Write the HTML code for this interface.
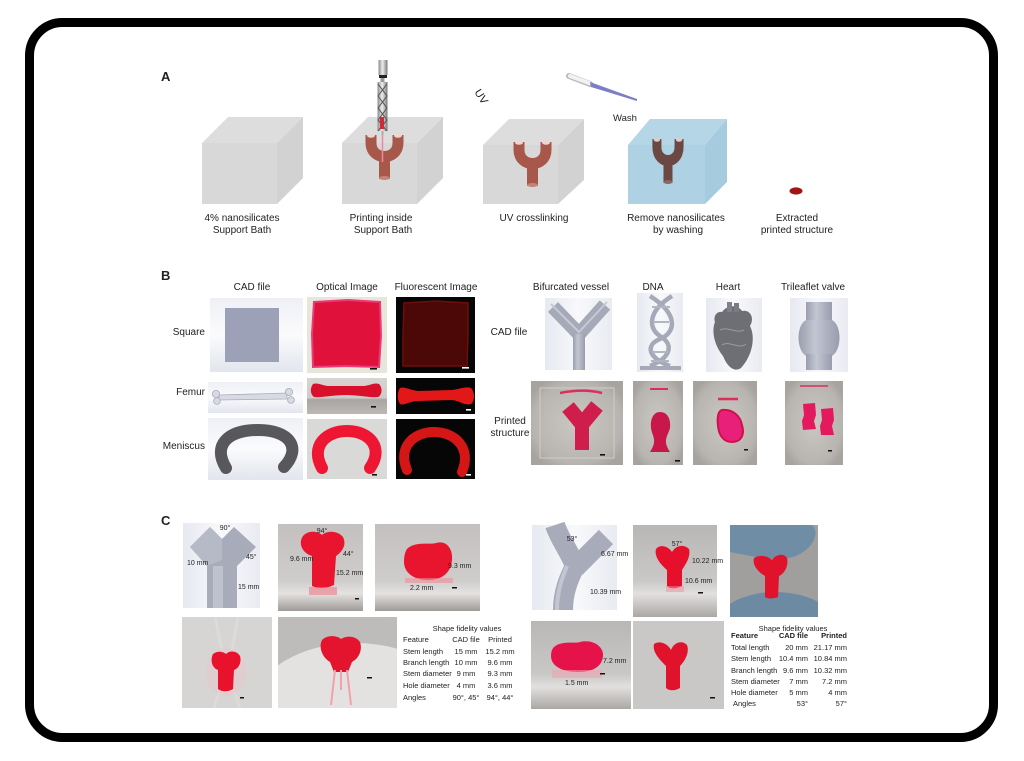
<!DOCTYPE html>
<html><head><meta charset="utf-8"><style>
html,body{margin:0;padding:0;background:#fff;}
svg{display:block;}
text{font-family:"Liberation Sans",Arial,sans-serif;fill:#222;}
</style></head><body>
<svg width="1024" height="761" viewBox="0 0 1024 761" xmlns="http://www.w3.org/2000/svg">
<defs>
<linearGradient id="cadbg" x1="0" y1="0" x2="0" y2="1"><stop offset="0" stop-color="#eef0f6"/><stop offset="0.5" stop-color="#fbfbfd"/><stop offset="1" stop-color="#e2e5ee"/></linearGradient>
<linearGradient id="cadbgH" x1="0" y1="0" x2="1" y2="0"><stop offset="0" stop-color="#e6e9f1"/><stop offset="0.5" stop-color="#f8f9fb"/><stop offset="1" stop-color="#e9ebf2"/></linearGradient>
<linearGradient id="photoG" x1="0" y1="0" x2="0" y2="1"><stop offset="0" stop-color="#c3c0bf"/><stop offset="0.65" stop-color="#cfcdcb"/><stop offset="0.8" stop-color="#e4e2e0"/><stop offset="1" stop-color="#9d9a98"/></linearGradient>
<linearGradient id="photoG2" x1="0" y1="0" x2="0" y2="1"><stop offset="0" stop-color="#b9b7b6"/><stop offset="0.6" stop-color="#cac8c6"/><stop offset="0.75" stop-color="#e2e0de"/><stop offset="1" stop-color="#aaa7a5"/></linearGradient>
<radialGradient id="printBg" cx="0.5" cy="0.5" r="0.6"><stop offset="0" stop-color="#cbc7c2"/><stop offset="0.8" stop-color="#b8b4af"/><stop offset="1" stop-color="#a7a39e"/></radialGradient>
<linearGradient id="femOpt" x1="0" y1="0" x2="0" y2="1"><stop offset="0" stop-color="#d8d4d1"/><stop offset="0.55" stop-color="#cfcbc8"/><stop offset="0.6" stop-color="#a9a5a2"/><stop offset="1" stop-color="#bcb8b5"/></linearGradient>
<linearGradient id="tube" x1="0" y1="0" x2="1" y2="0"><stop offset="0" stop-color="#9a9eae"/><stop offset="0.4" stop-color="#c3c6d2"/><stop offset="1" stop-color="#989cac"/></linearGradient>
<linearGradient id="syr" x1="0" y1="0" x2="1" y2="0"><stop offset="0" stop-color="#888"/><stop offset="0.45" stop-color="#eee"/><stop offset="1" stop-color="#777"/></linearGradient>
<clipPath id="clipC5"><rect x="278" y="617" width="119" height="91"/></clipPath>
<clipPath id="clipC4"><rect x="182" y="617" width="90" height="91"/></clipPath>
</defs>

<rect x="29.5" y="22.5" width="964" height="715" rx="33" ry="33" fill="#fff" stroke="#000" stroke-width="9"/>

<!-- ============ PANEL A ============ -->
<text x="161" y="81" font-size="13" font-weight="bold" fill="#111">A</text>

<g>
<polygon points="202,143 228,117 303,117 277,143" fill="#dddddd"/>
<polygon points="277,143 303,117 303,178 277,204" fill="#d2d2d2"/>
<rect x="202" y="143" width="75" height="61" fill="#d8d8d8"/>
</g>
<g>
<polygon points="342,143 368,117 443,117 417,143" fill="#dddddd"/>
<polygon points="417,143 443,117 443,178 417,204" fill="#d2d2d2"/>
<rect x="342" y="143" width="75" height="61" fill="#d8d8d8"/>
</g>
<g>
<polygon points="483,145 509,119 584,119 558,145" fill="#dddddd"/>
<polygon points="558,145 584,119 584,180 558,204" fill="#d2d2d2"/>
<rect x="483" y="145" width="75" height="59" fill="#d8d8d8"/>
</g>
<g>
<polygon points="628,145 650,119 727,119 705,145" fill="#b4d6e6"/>
<polygon points="705,145 727,119 727,182 705,204" fill="#a6cbde"/>
<rect x="628" y="145" width="77" height="59" fill="#aed1e3"/>
</g>

<g transform="translate(365,133)">
<path d="M6,2 L6,10 C6,28 33,28 33,10 L33,2" fill="none" stroke="#a8584a" stroke-width="11"/>
<rect x="14" y="20" width="11" height="26" fill="#a8584a"/>
<ellipse cx="6" cy="2.5" rx="4" ry="2.3" fill="#ecd6d2"/>
<ellipse cx="33" cy="2.5" rx="4" ry="2.3" fill="#ecd6d2"/>
<ellipse cx="19.5" cy="45" rx="5.5" ry="2" fill="#c58478"/>
</g>
<g>
<line x1="382.5" y1="133" x2="382.5" y2="162" stroke="#f08a9a" stroke-width="1.5"/>
<rect x="378.5" y="60" width="9" height="15" fill="url(#syr)"/>
<rect x="379" y="75" width="8" height="3" fill="#222"/>
<rect x="380.5" y="78" width="4" height="4" fill="#999"/>
<rect x="377.5" y="82" width="10" height="49" fill="url(#syr)"/>
<polyline points="378,84 387,96 378,108 387,120 378,131" fill="none" stroke="#555" stroke-width="1"/>
<polyline points="387,84 378,96 387,108 378,120 387,131" fill="none" stroke="#555" stroke-width="1"/>
<rect x="380" y="117" width="4" height="12" fill="#d02a3a"/>
<rect x="381.5" y="131" width="2" height="4" fill="#aaa"/>
</g>

<g transform="translate(513,140)">
<path d="M6,2 L6,10 C6,28 33,28 33,10 L33,2" fill="none" stroke="#a8584a" stroke-width="11"/>
<rect x="14" y="20" width="11" height="26" fill="#a8584a"/>
<ellipse cx="6" cy="2.5" rx="4" ry="2.3" fill="#ecd6d2"/>
<ellipse cx="33" cy="2.5" rx="4" ry="2.3" fill="#ecd6d2"/>
<ellipse cx="19.5" cy="45" rx="5.5" ry="2" fill="#c58478"/>
</g>
<g transform="translate(652,137) scale(0.82,1)">
<path d="M6,2 L6,10 C6,28 33,28 33,10 L33,2" fill="none" stroke="#6c4843" stroke-width="11"/>
<rect x="14" y="20" width="11" height="26" fill="#6c4843"/>
<ellipse cx="6" cy="2.5" rx="4" ry="2.3" fill="#d8cccc"/>
<ellipse cx="33" cy="2.5" rx="4" ry="2.3" fill="#d8cccc"/>
<ellipse cx="19.5" cy="45" rx="5.5" ry="2" fill="#8a6862"/>
</g>

<text x="468" y="93" font-size="11" transform="rotate(58 472 98)" fill="#333">UV</text>
<line x1="569" y1="76" x2="590" y2="84" stroke="#bbb" stroke-width="6" stroke-linecap="round"/>
<line x1="570" y1="76" x2="589" y2="83" stroke="#f2f2f2" stroke-width="4" stroke-linecap="round"/>
<polygon points="590,82 591,87 637,101 637,99" fill="#7d7fc6"/>
<text x="625" y="121" font-size="9.5" text-anchor="middle" fill="#333">Wash</text>
<ellipse cx="796" cy="191" rx="6.5" ry="3.6" fill="#a31414"/>

<g font-size="10" text-anchor="middle" fill="#333">
<text x="242" y="221">4% nanosilicates</text>
<text x="242" y="233">Support Bath</text>
<text x="381" y="221">Printing inside</text>
<text x="383" y="233">Support Bath</text>
<text x="534" y="221">UV crosslinking</text>
<text x="676" y="221">Remove nanosilicates</text>
<text x="678" y="233">by washing</text>
<text x="797" y="221">Extracted</text>
<text x="797" y="233">printed structure</text>
</g>

<!-- ============ PANEL B ============ -->
<text x="161" y="280" font-size="13" font-weight="bold" fill="#111">B</text>
<g font-size="10" text-anchor="middle" fill="#333">
<text x="252" y="290">CAD file</text>
<text x="347" y="290">Optical Image</text>
<text x="436" y="290">Fluorescent Image</text>
<text x="571" y="290">Bifurcated vessel</text>
<text x="653" y="290">DNA</text>
<text x="728" y="290">Heart</text>
<text x="813" y="290">Trileaflet valve</text>
<text x="509" y="335">CAD file</text>
<text x="510" y="424">Printed</text>
<text x="510" y="436">structure</text>
</g>
<g font-size="10" text-anchor="end" fill="#333">
<text x="205" y="335">Square</text>
<text x="205" y="395">Femur</text>
<text x="205" y="449">Meniscus</text>
</g>

<rect x="210" y="298" width="93" height="74" fill="url(#cadbg)"/>
<rect x="225" y="308" width="54" height="54" fill="#9ca1b7"/>
<rect x="307" y="297" width="80" height="76" fill="#e8e6db"/>
<path d="M314,302 L348,300 L380,302 L381,336 L379,367 L346,366 L313,367 L312,334 Z" fill="#e0123c" stroke="#ea3a78" stroke-width="2"/>
<rect x="370" y="368" width="7" height="1.6" fill="#111"/>
<rect x="396" y="297" width="79" height="76" fill="#060606"/>
<path d="M404,303 L436,301 L468,303 L468,335 L467,366 L435,366 L403,366 L403,334 Z" fill="#4c0707" stroke="#6d0d0d" stroke-width="1.5"/>
<rect x="462" y="367" width="7" height="1.6" fill="#fff"/>

<rect x="208" y="382" width="95" height="31" fill="url(#cadbg)"/>
<path d="M219,395 L287,393 L287,399 L219,400 Z" fill="#d8dae3" stroke="#a9acba" stroke-width="0.8"/>
<circle cx="216" cy="394" r="3.6" fill="#d8dae3" stroke="#a9acba" stroke-width="0.8"/>
<circle cx="217" cy="401" r="3.4" fill="#d8dae3" stroke="#a9acba" stroke-width="0.8"/>
<circle cx="289" cy="392" r="3.6" fill="#d8dae3" stroke="#a9acba" stroke-width="0.8"/>
<circle cx="291" cy="400" r="3.4" fill="#d8dae3" stroke="#a9acba" stroke-width="0.8"/>
<rect x="307" y="378" width="80" height="36" fill="url(#femOpt)"/>
<path d="M313,384 C318,382 322,386 330,386 L362,386 C370,386 374,382 379,384 C383,388 382,395 378,397 C370,398 360,395 346,395 C332,395 320,398 314,397 C310,394 310,388 313,384 Z" fill="#d8102c"/>
<rect x="371" y="406" width="5" height="1.6" fill="#111"/>
<rect x="396" y="378" width="79" height="36" fill="#060606"/>
<path d="M400,388 C404,386 410,390 418,391 L452,390 C460,389 466,386 471,388 C475,392 475,401 471,404 C465,406 460,401 452,400 L418,401 C410,401 404,406 400,404 C397,400 397,392 400,388 Z" fill="#e21818"/>
<rect x="466" y="409" width="5" height="1.6" fill="#fff"/>

<rect x="208" y="418" width="95" height="62" fill="url(#cadbg)"/>
<path d="M226,468 C212,445 228,430 258,430 C290,430 302,448 284,467" fill="none" stroke="#57575c" stroke-width="12" stroke-linecap="round"/>
<rect x="307" y="419" width="80" height="60" fill="#d9d9d8"/>
<path d="M322,468 C310,446 326,431 347,431 C370,431 384,448 370,468" fill="none" stroke="#ee1632" stroke-width="12" stroke-linecap="round"/>
<rect x="372" y="474" width="5" height="1.6" fill="#111"/>
<rect x="396" y="419" width="79" height="60" fill="#060606"/>
<path d="M407,470 C397,446 415,432 434,432 C455,432 472,448 462,472" fill="none" stroke="#d41616" stroke-width="10" stroke-linecap="round"/>
<rect x="466" y="474" width="5" height="1.6" fill="#fff"/>

<rect x="545" y="298" width="67" height="72" fill="url(#cadbgH)"/>
<path d="M553,307 L579,334 L605,305" fill="none" stroke="#a6aab8" stroke-width="14" stroke-linejoin="miter"/>
<rect x="573" y="334" width="12" height="36" fill="url(#tube)"/>
<path d="M551,304 L579,332 L607,302" fill="none" stroke="#c6c9d4" stroke-width="2"/>

<rect x="637" y="293" width="46" height="79" fill="url(#cadbgH)"/>
<g fill="none" stroke="#a6aab8" stroke-width="4.5">
<path d="M650,296 C680,315 675,333 660,339 C645,345 648,358 670,366"/>
<path d="M672,296 C645,313 650,330 660,336 C675,345 670,358 650,366"/>
</g>
<g stroke="#b2b5c2" stroke-width="2">
<line x1="652" y1="307" x2="670" y2="307"/><line x1="653" y1="322" x2="669" y2="322"/><line x1="652" y1="352" x2="668" y2="352"/><line x1="651" y1="361" x2="669" y2="361"/>
</g>
<rect x="640" y="366" width="41" height="4" fill="#a6aab8"/>

<rect x="706" y="298" width="56" height="74" fill="url(#cadbgH)"/>
<path d="M722,312 C728,304 738,305 742,311 C750,309 755,318 750,326 C756,338 752,356 741,368 C734,373 727,366 723,356 C715,346 711,332 715,322 C713,316 717,311 722,312 Z" fill="#6e6f75"/>
<rect x="727" y="302" width="5" height="10" fill="#808188"/><rect x="734" y="303" width="5" height="9" fill="#7b7c83"/>
<path d="M720,330 C728,326 736,334 744,330 M722,345 C730,340 738,350 746,344" stroke="#9a9ba2" stroke-width="1" fill="none"/>

<rect x="790" y="298" width="58" height="74" fill="url(#cadbgH)"/>
<rect x="806" y="302" width="26" height="20" fill="url(#tube)"/>
<path d="M806,320 C796,325 796,350 806,356 L832,356 C842,350 842,325 832,320 Z" fill="url(#tube)"/>
<rect x="806" y="354" width="26" height="16" fill="url(#tube)"/>

<rect x="531" y="381" width="92" height="84" fill="url(#printBg)"/>
<rect x="540" y="388" width="74" height="70" fill="none" stroke="#d0cdc8" stroke-width="1"/>
<path d="M560,393 C575,390 590,390 602,393" stroke="#d8305a" stroke-width="2.5" fill="none"/>
<path d="M568,407 L582,424 L597,406" fill="none" stroke="#cf1d4c" stroke-width="15"/>
<rect x="575" y="420" width="14" height="30" fill="#cf1d4c"/>
<rect x="600" y="454" width="5" height="1.6" fill="#111"/>

<rect x="633" y="381" width="50" height="84" fill="url(#printBg)"/>
<path d="M650,389 L668,389" stroke="#d8305a" stroke-width="2"/>
<path d="M660,412 C668,412 671,420 670,428 C668,436 662,440 670,452 L650,452 C658,440 652,436 651,428 C650,420 653,412 660,412 Z" fill="#c8184a"/>
<rect x="675" y="460" width="5" height="1.6" fill="#111"/>

<rect x="693" y="381" width="64" height="84" fill="url(#printBg)"/>
<path d="M718,399 L738,399" stroke="#d8305a" stroke-width="2.5"/>
<path d="M722,410 C732,409 740,415 742,425 C745,435 741,442 732,442 C724,442 719,436 718,426 C717,418 718,411 722,410 Z" fill="#e8207a" stroke="#d01048" stroke-width="2"/>
<rect x="744" y="449" width="4" height="1.5" fill="#111"/>

<rect x="785" y="381" width="58" height="84" fill="url(#printBg)"/>
<path d="M800,386 L828,386" stroke="#d8305a" stroke-width="1.5"/>
<path d="M803,404 L815,403 L816,415 L814,421 L816,429 L803,430 L802,421 L804,415 Z" fill="#e31a5e"/>
<path d="M821,409 L833,408 L834,420 L832,426 L834,435 L821,435 L820,426 L822,420 Z" fill="#e31a5e"/>
<rect x="828" y="450" width="4" height="1.5" fill="#111"/>

<!-- ============ PANEL C ============ -->
<text x="161" y="525" font-size="13" font-weight="bold" fill="#111">C</text>

<rect x="183" y="523" width="77" height="85" fill="url(#cadbgH)"/>
<polygon points="190,547 210,527 222,539 234,527 256,547 237,566 237,608 207,608 207,566" fill="#a7abba"/>
<polygon points="190,547 210,527 222,539 222,560 207,566" fill="#b6b9c6"/>
<rect x="213" y="566" width="10" height="42" fill="#bfc2ce"/>
<g font-size="7" fill="#333">
<text x="225" y="530" text-anchor="middle">90°</text>
<text x="246" y="559">45°</text>
<text x="187" y="565">10 mm</text>
<text x="238" y="589">15 mm</text>
</g>

<rect x="278" y="524" width="85" height="87" fill="url(#photoG)"/>
<path d="M303,536 C308,530 318,531 322,535 C328,530 338,531 343,537 C347,545 342,552 336,556 L334,585 C326,589 318,589 312,586 L312,556 C302,553 298,543 303,536 Z" fill="#e9142e"/>
<rect x="309" y="587" width="28" height="8" fill="#ee7a88" opacity="0.6"/>
<rect x="355" y="598" width="4" height="1.5" fill="#111"/>
<g font-size="7" fill="#333">
<text x="322" y="533" text-anchor="middle">94°</text>
<text x="290" y="561">9.6 mm</text>
<text x="343" y="556">44°</text>
<text x="336" y="575">15.2 mm</text>
</g>

<rect x="375" y="524" width="105" height="87" fill="url(#photoG)"/>
<path d="M407,549 C415,541 430,545 436,543 C446,540 453,548 452,560 C451,572 443,580 428,580 C413,580 404,572 404,562 C404,556 405,552 407,549 Z" fill="#e9142e"/>
<rect x="405" y="578" width="48" height="5" fill="#ef8c98" opacity="0.6"/>
<rect x="452" y="587" width="5" height="1.5" fill="#111"/>
<g font-size="7" fill="#333">
<text x="448" y="568">9.3 mm</text>
<text x="410" y="590">2.2 mm</text>
</g>

<g clip-path="url(#clipC4)">
<rect x="182" y="617" width="90" height="91" fill="#d6d5d3"/>
<path d="M215,617 L222,650 M238,617 L232,650 M220,690 L214,708 M234,690 L240,708" stroke="#e2e1df" stroke-width="3" fill="none" opacity="0.5"/>
<ellipse cx="226" cy="672" rx="20" ry="24" fill="#e8c6cc" opacity="0.5"/>
<path d="M213,654 C218,650 224,652 226,654 C230,650 237,651 240,656 C242,663 238,669 234,670 L233,689 C228,692 222,692 218,689 L218,670 C212,668 210,660 213,654 Z" fill="#e8122c"/>
<rect x="240" y="697" width="4" height="1.5" fill="#111"/>
</g>

<g clip-path="url(#clipC5)">
<rect x="278" y="617" width="119" height="91" fill="#bebcba"/>
<ellipse cx="355" cy="705" rx="100" ry="62" fill="#e3e2e0"/>
<path d="M322,640 C328,634 338,636 341,639 C347,635 356,636 360,642 C363,651 358,659 352,662 L348,672 L334,672 L330,662 C323,658 318,648 322,640 Z" fill="#e5142e"/>
<path d="M335,670 L331,705 M347,670 L351,705 M341,670 L341,690" stroke="#f4a0aa" stroke-width="2"/>
<rect x="367" y="677" width="5" height="1.5" fill="#111"/>
</g>

<g font-size="7.5" fill="#222">
<text x="467" y="631" text-anchor="middle">Shape fidelity values</text>
<text x="403" y="642">Feature</text><text x="466" y="642" text-anchor="middle">CAD file</text><text x="500" y="642" text-anchor="middle">Printed</text>
<text x="403" y="654">Stem length</text><text x="466" y="654" text-anchor="middle">15 mm</text><text x="500" y="654" text-anchor="middle">15.2 mm</text>
<text x="403" y="665">Branch length</text><text x="466" y="665" text-anchor="middle">10 mm</text><text x="500" y="665" text-anchor="middle">9.6 mm</text>
<text x="403" y="676">Stem diameter</text><text x="466" y="676" text-anchor="middle">9 mm</text><text x="500" y="676" text-anchor="middle">9.3 mm</text>
<text x="403" y="688">Hole diameter</text><text x="466" y="688" text-anchor="middle">4 mm</text><text x="500" y="688" text-anchor="middle">3.6 mm</text>
<text x="403" y="700">Angles</text><text x="466" y="700" text-anchor="middle">90°, 45°</text><text x="500" y="700" text-anchor="middle">94°, 44°</text>
</g>

<rect x="532" y="525" width="85" height="85" fill="url(#cadbgH)"/>
<path d="M563,610 C563,592 569,578 575,566 C570,552 560,540 555,525" fill="none" stroke="#a7abba" stroke-width="20"/>
<path d="M575,568 L606,537" fill="none" stroke="#a7abba" stroke-width="20"/>
<path d="M557,610 C557,592 562,578 567,566" fill="none" stroke="#c3c6d2" stroke-width="4"/>
<g font-size="7" fill="#333">
<text x="572" y="541" text-anchor="middle">53°</text>
<text x="601" y="556">6.67 mm</text>
<text x="590" y="594">10.39 mm</text>
</g>

<rect x="633" y="525" width="84" height="92" fill="url(#photoG2)"/>
<path d="M656,549 C660,544 668,546 672,552 C676,545 684,544 689,549 C691,556 686,564 682,570 L682,586 C676,589 670,589 667,586 L667,570 C660,564 654,556 656,549 Z" fill="#e6102c"/>
<rect x="666" y="586" width="18" height="6" fill="#ef8c98" opacity="0.5"/>
<rect x="698" y="592" width="5" height="1.5" fill="#111"/>
<g font-size="7" fill="#333">
<text x="677" y="546" text-anchor="middle">57°</text>
<text x="692" y="563">10.22 mm</text>
<text x="685" y="583">10.6 mm</text>
</g>

<rect x="730" y="525" width="88" height="92" fill="#a19f9e"/>
<path d="M730,525 L812,525 C820,532 814,548 796,556 C780,562 760,558 730,552 Z" fill="#6f8ea6"/>
<path d="M730,617 L818,617 L818,602 C805,594 780,590 760,593 C745,596 735,600 730,604 Z" fill="#6c8ba3"/>
<path d="M754,558 C760,554 768,556 772,560 C776,554 784,553 787,558 C789,566 784,574 779,576 L778,597 C773,599 768,599 765,597 L765,576 C758,572 752,565 754,558 Z" fill="#e1122c"/>

<rect x="531" y="621" width="100" height="88" fill="url(#photoG2)"/>
<path d="M554,647 C562,640 575,644 580,642 C592,639 604,646 603,656 C602,666 594,672 578,672 C562,672 551,666 551,656 C551,652 552,649 554,647 Z" fill="#e6134a"/>
<rect x="552" y="670" width="50" height="8" fill="#f0a0b0" opacity="0.55"/>
<rect x="600" y="673" width="5" height="1.5" fill="#111"/>
<g font-size="7" fill="#333">
<text x="603" y="663">7.2 mm</text>
<text x="565" y="685">1.5 mm</text>
</g>

<rect x="633" y="621" width="91" height="88" fill="#cac8c6"/>
<path d="M654,644 C660,640 668,644 671,650 C674,642 682,640 687,645 C690,653 684,662 680,666 L680,688 C675,691 669,691 666,688 L666,666 C660,660 652,652 654,644 Z" fill="#e1122c"/>
<rect x="710" y="697" width="5" height="1.5" fill="#111"/>

<g font-size="7.5" fill="#222">
<text x="793" y="631" text-anchor="middle">Shape fidelity values</text>
<text x="731" y="638" font-weight="bold">Feature</text><text x="808" y="638" text-anchor="end" font-weight="bold">CAD file</text><text x="847" y="638" text-anchor="end" font-weight="bold">Printed</text>
<text x="731" y="650">Total length</text><text x="808" y="650" text-anchor="end">20 mm</text><text x="847" y="650" text-anchor="end">21.17 mm</text>
<text x="731" y="661">Stem length</text><text x="808" y="661" text-anchor="end">10.4 mm</text><text x="847" y="661" text-anchor="end">10.84 mm</text>
<text x="731" y="673">Branch length</text><text x="808" y="673" text-anchor="end">9.6 mm</text><text x="847" y="673" text-anchor="end">10.32 mm</text>
<text x="731" y="684">Stem diameter</text><text x="808" y="684" text-anchor="end">7 mm</text><text x="847" y="684" text-anchor="end">7.2 mm</text>
<text x="731" y="695">Hole diameter</text><text x="808" y="695" text-anchor="end">5 mm</text><text x="847" y="695" text-anchor="end">4 mm</text>
<text x="733" y="706">Angles</text><text x="808" y="706" text-anchor="end">53°</text><text x="847" y="706" text-anchor="end">57°</text>
</g>
</svg>
</body></html>
